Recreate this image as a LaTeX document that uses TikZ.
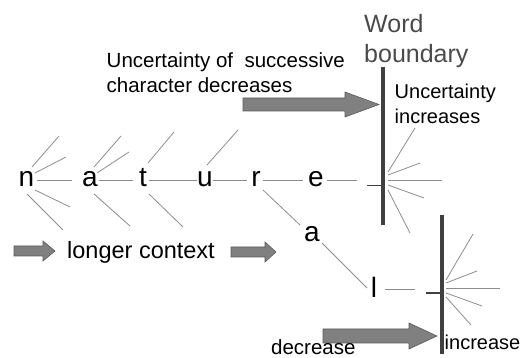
\documentclass[tikz,border=0pt]{standalone}
\usepackage{fontspec}
\setmainfont{Liberation Sans}
\definecolor{spokegray}{HTML}{8C8C8C}
\definecolor{bargray}{HTML}{404040}
\definecolor{arrowfill}{HTML}{808080}
\definecolor{arrowline}{HTML}{5A5A5A}
\definecolor{wbgray}{HTML}{4A4A4A}
\begin{document}
\begin{tikzpicture}[x=1pt,y=-1pt,
  letter/.style={inner sep=0pt, text height=14pt, text depth=0pt, anchor=center, font=\fontsize{28}{30}\selectfont},
  spoke/.style={draw=spokegray, line width=0.8pt},
  tick/.style={draw=bargray, line width=1.4pt},
  bar/.style={draw=bargray, line width=4pt},
  blockarrow/.style={fill=arrowfill, draw=arrowline, line width=0.6pt},
  lbl/.style={anchor=base west, inner sep=0pt}
]
\useasboundingbox (0,0) rectangle (523,358);

% letters
\node[letter] (n)  at (26.5,180) {n};
\node[letter] (a)  at (90,180) {a};
\node[letter] (t)  at (143,180) {t};
\node[letter] (u)  at (205,180) {u};
\node[letter] (r)  at (256,180) {r};
\node[letter] (e)  at (316,180) {e};
\node[letter] (a2) at (312,235) {a};
\node[letter] (l)  at (374,291) {l};

% word boundary bars
\coordinate (b1top) at (383,67);
\coordinate (b1bot) at (383,225);
\coordinate (b2top) at (442,215);
\coordinate (b2bot) at (442,354);
\draw[bar] (b1top) -- (b1bot);
\draw[bar] (b2top) -- (b2bot);

% chain connectors
\draw[spoke] ([xshift=10.5]n.center) -- ([xshift=-18]a.center);
\draw[spoke] ([xshift=9]a.center) -- ([xshift=-10]t.center);
\draw[spoke] ([xshift=6]t.center) -- ([xshift=-8]u.center);
\draw[spoke] ([xshift=8]u.center) -- ([xshift=-9]r.center);
\draw[spoke] ([xshift=7]r.center) -- ([xshift=-13]e.center);
\draw[spoke] ([shift={(7,10)}]r.center) -- ([shift={(-12,-10)}]a2.center);
\draw[spoke] ([shift={(10,8)}]a2.center) -- ([shift={(-7,-3)}]l.center);
\draw[spoke] ([xshift=11]e.center) -- ([xshift=41]e.center);
\draw[spoke] ([xshift=11,yshift=1.5]l.center) -- ([xshift=41,yshift=1.5]l.center);
\draw[tick] (367,185.5) -- (b1top |- 0,185.5);
\draw[tick] (426,293) -- (b2top |- 0,293);

% spokes around n
\draw[spoke] (32,167) -- (59,136);
\draw[spoke] (35,173) -- (66,157);
\draw[spoke] (35,190) -- (70,207);
\draw[spoke] (27,194) -- (63,230);
% spokes around a
\draw[spoke] (94,167) -- (121,136);
\draw[spoke] (97,173) -- (129,152);
\draw[spoke] (94,194) -- (130,226);
% spokes around t
\draw[spoke] (148,163) -- (174,132);
\draw[spoke] (149,194) -- (183,227);
% spoke around u
\draw[spoke] (207,165) -- (238,130);

% spokes after boundary 1
\draw[spoke] (388,172) -- (415,128);
\draw[spoke] (388,175) -- (420,163);
\draw[spoke] (388,180.5) -- (442,180.5);
\draw[spoke] (388,185) -- (424,198);
\draw[spoke] (388,190) -- (410,233);
% spokes after boundary 2
\draw[spoke] (446,280) -- (473,234);
\draw[spoke] (446,283) -- (477,271);
\draw[spoke] (446,288) -- (500,288);
\draw[spoke] (446,293) -- (482,306);
\draw[spoke] (446,297) -- (471,325);

% block arrows
\draw[blockarrow] (243,98) -- (345,98) -- (345,92) -- (379,104.5) -- (345,117) -- (345,111) -- (243,111) -- cycle;
\draw[blockarrow] (14,246) -- (43,246) -- (43,241) -- (55,251) -- (43,261) -- (43,256) -- (14,256) -- cycle;
\draw[blockarrow] (231,247) -- (265,247) -- (265,242) -- (276,252) -- (265,262) -- (265,257) -- (231,257) -- cycle;
\draw[blockarrow] (323,329) -- (409,329) -- (409,323) -- (437,336) -- (409,349) -- (409,343) -- (323,343) -- cycle;

% labels
\node[lbl, font=\fontsize{20.5}{25}\selectfont] (unc1) at (106.5,68) {Uncertainty of\ \ successive};
\node[lbl, font=\fontsize{20.5}{25}\selectfont] (unc2) at (106.5,93) {character decreases};
\node[lbl, text=wbgray, font=\fontsize{25}{30}\selectfont] (wb1) at (364,33) {Word};
\node[lbl, text=wbgray, font=\fontsize{25}{30}\selectfont] (wb2) at (364,63) {boundary};
\node[lbl, font=\fontsize{20}{25}\selectfont] (uinc1) at (394.5,99) {Uncertainty};
\node[lbl, font=\fontsize{20}{25}\selectfont] (uinc2) at (394.5,124) {increases};
\node[lbl, font=\fontsize{23.5}{28}\selectfont] (lc) at (67,259) {longer context};
\node[lbl, font=\fontsize{20.5}{25}\selectfont] (dec) at (271,355) {decrease};
\node[lbl, font=\fontsize{20}{25}\selectfont] (inc) at (444.5,350) {increase};
\end{tikzpicture}
\end{document}
